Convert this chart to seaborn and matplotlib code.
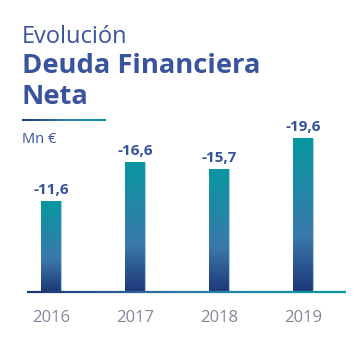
import numpy as np
import pandas as pd
import matplotlib
matplotlib.use("Agg")
import matplotlib.pyplot as plt
import seaborn as sns
from matplotlib.colors import LinearSegmentedColormap
from matplotlib.collections import LineCollection

years = ["2016", "2017", "2018", "2019"]
values = [-11.6, -16.6, -15.7, -19.6]
labels = ["-11,6", "-16,6", "-15,7", "-19,6"]

sns.set_style("white")
plt.rcParams['font.family'] = ['Open Sans', 'DejaVu Sans']

W, H = 354, 338
fig = plt.figure(figsize=(W / 100, H / 100), dpi=100)

def fx(px):
    return px / W

def fy(py):
    return 1 - py / H

# axes: x from 27 to 346 px, y bottom 292 to top 100
ax = fig.add_axes([fx(27), fy(292), fx(346 - 27), (292 - 100) / H])
df = pd.DataFrame({"year": years, "value": np.abs(values)})
sns.barplot(data=df, x="year", y="value", ax=ax, width=0.238, color="#2a6aa0",
            saturation=1)

cmap = LinearSegmentedColormap.from_list(
    "bar", [(0, "#1e3778"), (0.36, "#3a78a9"), (1, "#0798a1")])
line_cmap = LinearSegmentedColormap.from_list("ln", ["#1e3778", "#2f7aa8", "#0798a1"])
grad = np.linspace(0, 1, 256).reshape(-1, 1)
for p, lab in zip(ax.patches, labels):
    x0, y0 = p.get_x(), p.get_y()
    w, h = p.get_width(), p.get_height()
    p.set_facecolor("none")
    p.set_edgecolor("none")
    im = ax.imshow(grad, cmap=cmap, origin="lower", aspect="auto",
                   extent=[x0, x0 + w, y0, y0 + h], zorder=2)
    im.set_clip_path(p)
    ax.plot([x0 + w, x0 + w], [0, h], color="#a9cde0", lw=0.8, zorder=3)
    ax.text(x0 + w / 2, h + 0.9, lab, ha="center", va="baseline",
            fontsize=11, fontweight="bold", color="#34529c")

ax.set_xlim(-0.286, 3.512)
ax.set_ylim(0, 192 / 7.84)

# gradient baseline
n = 200
xs = np.linspace(0, 1, n + 1)
segs = [[(xs[i], 0), (xs[i + 1], 0)] for i in range(n)]
lc = LineCollection(segs, colors=line_cmap(np.linspace(0, 1, n)), lw=1.6,
                    transform=ax.transAxes, clip_on=False, zorder=4)
ax.add_collection(lc)

for s in ax.spines.values():
    s.set_visible(False)
ax.set_yticks([])
ax.set_ylabel("")
ax.set_xlabel("")
ax.tick_params(axis="x", length=0, pad=13, labelsize=12, labelcolor="#85869a")

title_color = "#3a539e"
fig.text(fx(22), fy(43.3), "Evolución", fontsize=17, fontweight="normal",
         color=title_color, va="baseline", ha="left")
fig.text(fx(22), fy(73.3), "Deuda Financiera", fontsize=19.7, fontweight="bold",
         color=title_color, va="baseline", ha="left")
fig.text(fx(22), fy(104), "Neta", fontsize=19.7, fontweight="bold",
         color=title_color, va="baseline", ha="left")
fig.text(fx(22), fy(142.7), "Mn €", fontsize=10.5, fontweight="normal",
         color=title_color, va="baseline", ha="left")

# short gradient rule under title
lax = fig.add_axes([fx(22), fy(121), fx(84), 2 / H])
lax.imshow(np.linspace(0, 1, 256).reshape(1, -1), cmap=line_cmap, aspect="auto")
lax.axis("off")

fig.savefig("out.png", dpi=100)
